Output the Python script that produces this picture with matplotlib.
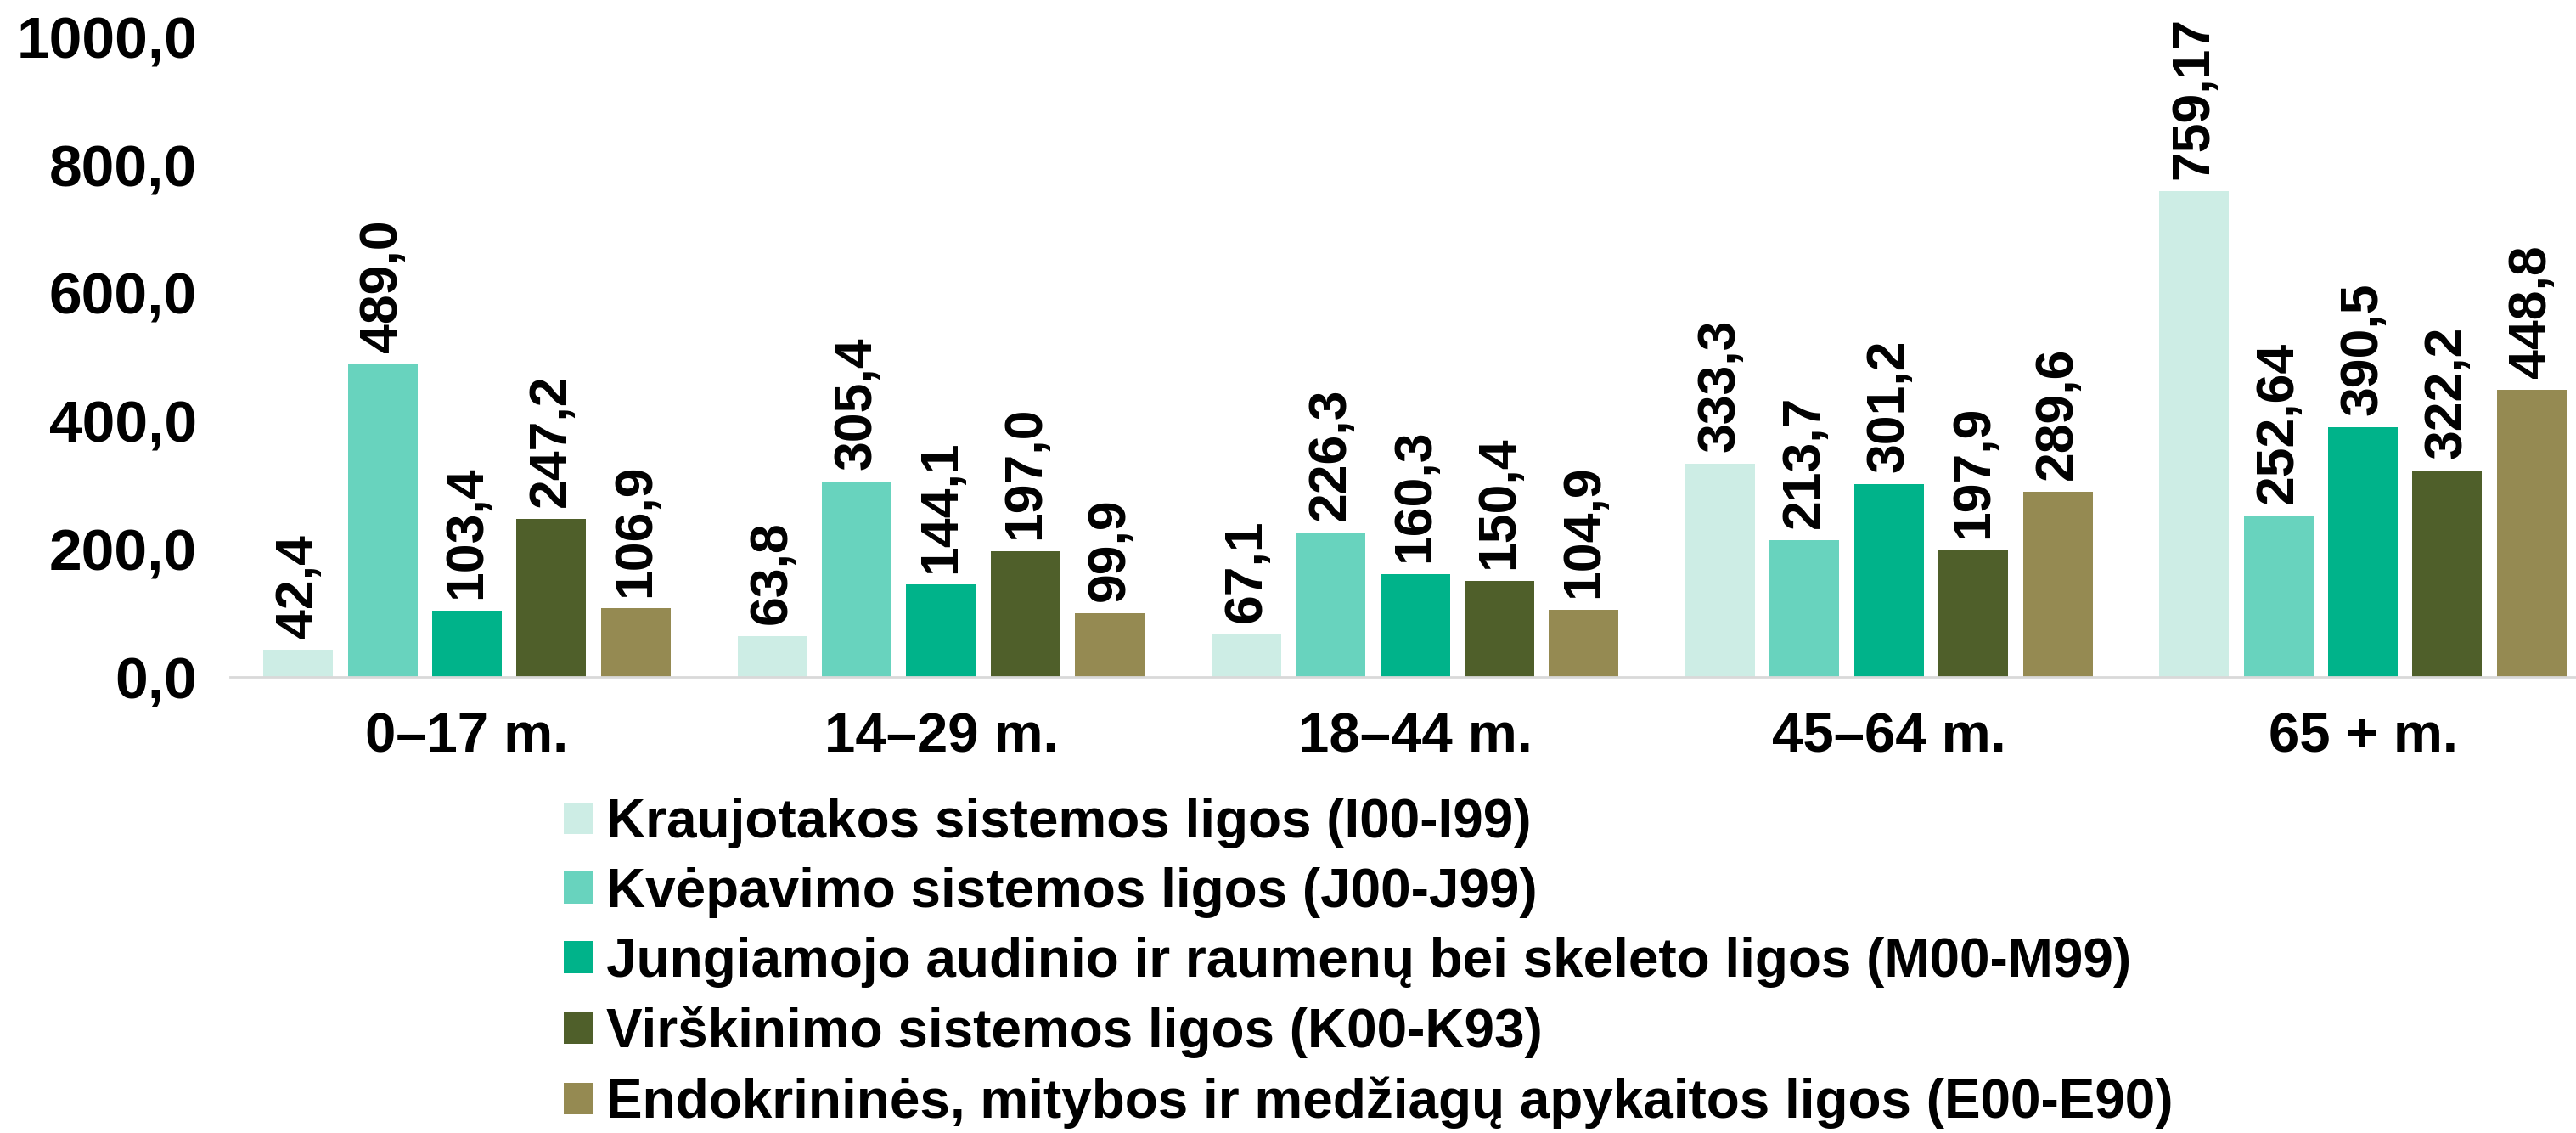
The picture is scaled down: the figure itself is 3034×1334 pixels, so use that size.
import matplotlib
matplotlib.use("Agg")
import matplotlib.pyplot as plt
import numpy as np

plt.rcParams['font.family'] = ['Liberation Sans', 'DejaVu Sans']
plt.rcParams['font.weight'] = 'bold'

groups = ["0–17 m.", "14–29 m.", "18–44 m.", "45–64 m.", "65 + m."]
series = [
    "Kraujotakos sistemos ligos (I00-I99)",
    "Kvėpavimo sistemos ligos (J00-J99)",
    "Jungiamojo audinio ir raumenų bei skeleto ligos (M00-M99)",
    "Virškinimo sistemos ligos (K00-K93)",
    "Endokrininės, mitybos ir medžiagų apykaitos ligos (E00-E90)",
]
kraujotakos = [42.4, 63.8, 67.1, 333.3, 759.17]
kvepavimo = [489.0, 305.4, 226.3, 213.7, 252.64]
jungiamojo = [103.4, 144.1, 160.3, 301.2, 390.5]
virskinimo = [247.2, 197.0, 150.4, 197.9, 322.2]
endokrinines = [106.9, 99.9, 104.9, 289.6, 448.8]
colors = ["#CDEDE5", "#68D3BE", "#00B38A", "#4F5F2A", "#958A52"]

data = [kraujotakos, kvepavimo, jungiamojo, virskinimo, endokrinines]

def fmt(v):
    s = f"{v:.1f}" if abs(round(v, 1) - v) < 1e-9 else f"{v:.2f}"
    return s.replace(".", ",")

fig = plt.figure(figsize=(30.34, 13.34), dpi=100)
ax = fig.add_axes([0.0893, 0.4025, 0.92, 0.565])

x = np.arange(len(groups))
pitch, width = 0.178, 0.147
for i, (vals, lab, c) in enumerate(zip(data, series, colors)):
    pos = x + (i - 2) * pitch
    ax.bar(pos, vals, width, color=c, label=lab, zorder=2)
    for p, v in zip(pos, vals):
        ax.annotate(fmt(v), (p, v), xytext=(0, 10), textcoords="offset points",
                    rotation=90, ha="center", va="bottom",
                    fontsize=45, fontweight="bold")

ax.set_xlim(-0.5, len(groups) - 0.5)
ax.set_ylim(0, 1000)
ax.set_yticks(np.arange(0, 1001, 200))
ax.set_yticklabels([f"{t:.1f}".replace(".", ",") for t in np.arange(0, 1001, 200)])
ax.set_xticks(x)
ax.set_xticklabels(groups)
ax.tick_params(axis="y", length=0, labelsize=50, pad=28)
ax.tick_params(axis="x", length=0, labelsize=47, pad=30)
for lbl in ax.get_xticklabels() + ax.get_yticklabels():
    lbl.set_fontweight("bold")
for s in ["top", "right", "left"]:
    ax.spines[s].set_visible(False)
ax.spines["bottom"].set_color("#D9D9D9")
ax.spines["bottom"].set_linewidth(2)

fig.legend(loc="upper left", bbox_to_anchor=(0.219, 0.296), frameon=False,
           ncol=1, fontsize=46, handlelength=0.53, handleheight=0.53,
           handletextpad=0.25, labelspacing=0.34, borderpad=0, borderaxespad=0)

fig.savefig("out.png", dpi=100)
